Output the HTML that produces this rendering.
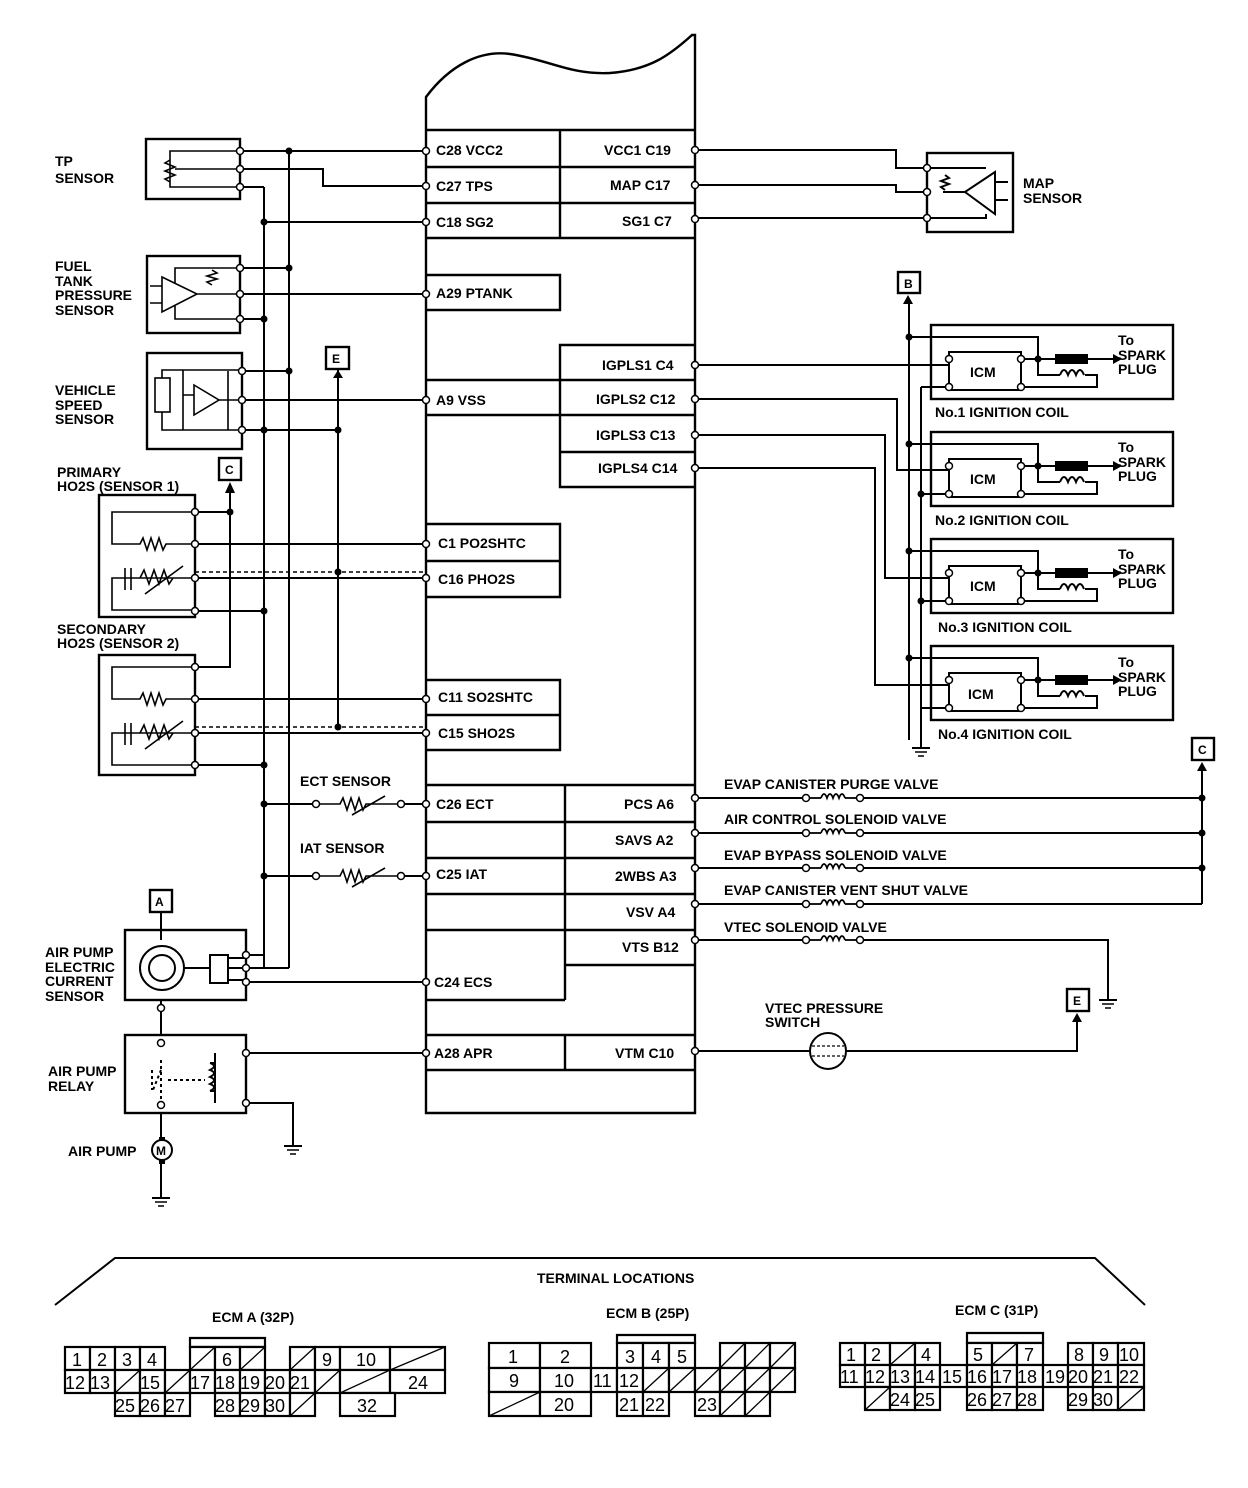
<!DOCTYPE html>
<html><head><meta charset="utf-8"><style>
html,body{margin:0;padding:0;background:#fff;}
svg{display:block}
text{font-family:"Liberation Sans",sans-serif;font-weight:bold;font-size:14px;fill:#000}
.s{font-size:12px}
.g{font-size:18px;font-weight:normal}
</style></head><body>
<svg width="1248" height="1488" viewBox="0 0 1248 1488" xmlns="http://www.w3.org/2000/svg">
<defs>
<g id="gnd"><line x1="0" y1="0" x2="0" y2="8" stroke="#000" stroke-width="2"/><line x1="-9" y1="8" x2="9" y2="8" stroke="#000" stroke-width="2"/><line x1="-6" y1="12" x2="6" y2="12" stroke="#000" stroke-width="1.5"/><line x1="-3" y1="16" x2="3" y2="16" stroke="#000" stroke-width="1.5"/></g>
<g id="tc"><circle r="3.5" fill="#fff" stroke="#000" stroke-width="1.5"/></g>
<g id="dot"><circle r="3.5" fill="#000"/></g>
<g id="sol"><use href="#tc" x="0"/><line x1="4" y1="0" x2="15" y2="0" stroke="#000" stroke-width="1.8"/><path d="M15,0 q3,-8 6,0 q3,-8 6,0 q3,-8 6,0 q3,-8 6,0" fill="none" stroke="#000" stroke-width="1.8"/><line x1="39" y1="0" x2="50" y2="0" stroke="#000" stroke-width="1.8"/><use href="#tc" x="54"/></g>
</defs>
<g fill="none" stroke="#000" stroke-width="2.4">
<path d="M426,97 C450,65 480,50 510,54 C550,60 570,75 610,73 C650,70 670,55 692,35 L695,35 L695,1113 L426,1113 Z" fill="#fff"/>
<path d="M426,130 H695 M426,167 H695 M426,203 H695 M426,238 H695 M560,130 V238"/>
<path d="M426,275 H560 V310 H426"/>
<path d="M695,345 H560 V487 H695 M560,380 H695 M560,415 H695 M560,452 H695"/>
<path d="M426,380 H560 M426,415 H560"/>
<path d="M426,524 H560 V597 H426 M426,561 H560"/>
<path d="M426,680 H560 V750 H426 M426,715 H560"/>
<path d="M426,785 H695 M426,822 H695 M565,858 H695 M426,894 H695 M565,930 H695 M565,965 H695 M426,1000 H565 M426,1035 H695 M426,1070 H695 M565,785 V1000 M565,1035 V1070 M426,858 H565 M426,930 H565"/>
</g>
<text x="436" y="155">C28 VCC2</text><text x="436" y="191">C27 TPS</text><text x="436" y="227">C18 SG2</text>
<text x="604" y="155">VCC1 C19</text><text x="610" y="190">MAP C17</text><text x="622" y="226">SG1 C7</text>
<text x="436" y="298">A29 PTANK</text>
<text x="602" y="370">IGPLS1 C4</text><text x="596" y="404">IGPLS2 C12</text><text x="596" y="440">IGPLS3 C13</text><text x="598" y="473">IGPLS4 C14</text>
<text x="436" y="405">A9 VSS</text>
<text x="438" y="548">C1 PO2SHTC</text><text x="438" y="584">C16 PHO2S</text>
<text x="438" y="702">C11 SO2SHTC</text><text x="438" y="738">C15 SHO2S</text>
<text x="436" y="809">C26 ECT</text><text x="436" y="879">C25 IAT</text><text x="434" y="987">C24 ECS</text><text x="434" y="1058">A28 APR</text>
<text x="624" y="809">PCS A6</text><text x="615" y="845">SAVS A2</text><text x="615" y="881">2WBS A3</text><text x="626" y="917">VSV A4</text><text x="622" y="952">VTS B12</text><text x="615" y="1058">VTM C10</text>

<text x="55" y="166">TP</text><text x="55" y="183">SENSOR</text>
<text x="55" y="271">FUEL</text><text x="55" y="286">TANK</text><text x="55" y="300">PRESSURE</text><text x="55" y="315">SENSOR</text>
<text x="55" y="395">VEHICLE</text><text x="55" y="410">SPEED</text><text x="55" y="424">SENSOR</text>
<text x="57" y="477">PRIMARY</text><text x="57" y="491">HO2S (SENSOR 1)</text>
<text x="57" y="634">SECONDARY</text><text x="57" y="648">HO2S (SENSOR 2)</text>
<text x="300" y="786">ECT SENSOR</text><text x="300" y="853">IAT SENSOR</text>
<text x="45" y="957">AIR PUMP</text><text x="45" y="972">ELECTRIC</text><text x="45" y="986">CURRENT</text><text x="45" y="1001">SENSOR</text>
<text x="48" y="1076">AIR PUMP</text><text x="48" y="1091">RELAY</text>
<text x="68" y="1156">AIR PUMP</text>

<g fill="none" stroke="#000" stroke-width="2.4">
<rect x="146" y="139" width="94" height="60"/>
<rect x="147" y="256" width="93" height="77"/>
<rect x="147" y="353" width="95" height="96"/>
<rect x="99" y="495" width="96" height="122"/>
<rect x="99" y="655" width="96" height="120"/>
<rect x="125" y="930" width="121" height="70"/>
<rect x="125" y="1035" width="121" height="78"/>
</g>
<g fill="none" stroke="#000" stroke-width="1.6">
<path d="M240,151 H170 V187 H240 M170,160 l-5,3 l10,4 l-10,4 l10,4 l-10,4 l5,3 M175,169 H240"/>
<path d="M162,277 L197,294 L162,312 Z M150,286 H162 M150,303 H162 M175,283 V268 H240 M175,305 V319 H240 M197,294 H240 M212,270 l5,3 l-10,3 l10,3 l-10,3 l5,3"/>
<rect x="155" y="378" width="15" height="34"/><path d="M162,378 V370 H240 M162,412 V430 H240 M183,370 V430 M194,385 L219,400 L194,415 Z M183,395 H194 M219,400 H240 M228,371 V430"/>
<path d="M195,512 H112 V544 H140 l3,-6 l4,12 l4,-12 l4,12 l4,-12 l4,12 l3,-6 H195 M195,578 H112 V610 H195 M112,578 H125 M125,568 V590 M131,568 V590 M140,578 l4,-8 l5,14 l5,-14 l5,14 l5,-14 l5,14 l4,-6 H195 M145,594 L183,566"/>
<path d="M195,667 H112 V699 H140 l3,-6 l4,12 l4,-12 l4,12 l4,-12 l4,12 l3,-6 H195 M195,733 H112 V765 H195 M112,733 H125 M125,723 V745 M131,723 V745 M140,733 l4,-8 l5,14 l5,-14 l5,14 l5,-14 l5,14 l4,-6 H195 M145,749 L183,721"/>
</g>
<g fill="none" stroke="#000" stroke-width="2">
<path d="M264,187 V968 M289,151 V968 M240,151 H426 M240,169 H323 V186 H426 M240,187 H264 M264,222 H426"/>
<path d="M240,268 H289 M240,294 H426 M240,319 H264 M242,371 H289 M242,400 H426 M242,430 H338"/>
<path d="M338,370 V728"/>
<path d="M195,512 H230 V485 M195,544 H426 M195,578 H426 M195,611 H264"/>
<path d="M195,667 H230 V512 M195,699 H426 M195,733 H426 M195,765 H264"/>
<path d="M264,804 H312 M405,804 H426 M264,876 H312 M405,876 H426"/>
<path d="M246,955 H264 M246,968 H289 M246,982 H426"/>
<path d="M246,1053 H426 M246,1103 H293 V1138"/>
<path d="M161,912 V940 M161,1000 V1035 M161,1113 V1140 M161,1160 V1190"/>
</g>
<g fill="none" stroke="#000" stroke-width="1.4" stroke-dasharray="4,3">
<path d="M195,572 H426 M195,727 H426"/>
</g>
<g fill="none" stroke="#000" stroke-width="1.6">
<path d="M320,804 H340 l3,-6 l4,12 l4,-12 l4,12 l4,-12 l4,12 l3,-6 H397 M352,815 L385,796"/>
<path d="M320,876 H340 l3,-6 l4,12 l4,-12 l4,12 l4,-12 l4,12 l3,-6 H397 M352,887 L385,868"/>
</g>
<use href="#tc" x="316" y="804"/><use href="#tc" x="401" y="804"/><use href="#tc" x="316" y="876"/><use href="#tc" x="401" y="876"/>
<g fill="none" stroke="#000" stroke-width="2">
<circle cx="162" cy="968" r="22"/><circle cx="162" cy="968" r="13"/>
<rect x="210" y="955" width="18" height="28"/><path d="M184,968 H210 M228,958 H246 M228,968 H246 M228,980 H246"/>
<path d="M161,1060 V1100 M152,1070 V1090 M161,1070 L153,1090 M168,1080 H205" stroke-dasharray="3,3"/>
<path d="M215,1053 V1103 M210,1063 q8,3 0,7 q8,3 0,7 q8,3 0,7 q8,3 0,7 M210,1063 H215 M210,1091 H215"/>
<circle cx="162" cy="1150" r="10"/>
</g>
<text x="156" y="1155" class="s">M</text>
<rect x="159" y="1137" width="6" height="4" fill="#000"/><rect x="159" y="1160" width="6" height="4" fill="#000"/>
<use href="#gnd" x="161" y="1190"/><use href="#gnd" x="293" y="1138"/>
<g fill="#fff" stroke="#000" stroke-width="2.4">
<rect x="326" y="347" width="23" height="22"/><rect x="219" y="458" width="22" height="22"/><rect x="150" y="890" width="22" height="22"/>
<rect x="898" y="272" width="22" height="21"/><rect x="1192" y="738" width="22" height="22"/><rect x="1067" y="989" width="22" height="22"/>
</g>
<text x="332" y="363" class="s">E</text><text x="225" y="474" class="s">C</text><text x="155" y="906" class="s">A</text>
<text x="904" y="288" class="s">B</text><text x="1198" y="754" class="s">C</text><text x="1073" y="1005" class="s">E</text>
<g fill="#000"><path d="M333,378 L343,378 L338,370 Z"/><path d="M225,493 L235,493 L230,482 Z"/><path d="M903,304 L913,304 L908,295 Z"/><path d="M1197,771 L1207,771 L1202,762 Z"/><path d="M1072,1022 L1082,1022 L1077,1013 Z"/></g>
<use href="#tc" x="240" y="151"/><use href="#tc" x="240" y="169"/><use href="#tc" x="240" y="187"/>
<use href="#tc" x="240" y="268"/><use href="#tc" x="240" y="294"/><use href="#tc" x="240" y="319"/>
<use href="#tc" x="242" y="371"/><use href="#tc" x="242" y="400"/><use href="#tc" x="242" y="430"/>
<use href="#tc" x="195" y="512"/><use href="#tc" x="195" y="544"/><use href="#tc" x="195" y="578"/><use href="#tc" x="195" y="611"/>
<use href="#tc" x="195" y="667"/><use href="#tc" x="195" y="699"/><use href="#tc" x="195" y="733"/><use href="#tc" x="195" y="765"/>
<use href="#tc" x="246" y="955"/><use href="#tc" x="246" y="968"/><use href="#tc" x="246" y="982"/>
<use href="#tc" x="246" y="1053"/><use href="#tc" x="246" y="1103"/><use href="#tc" x="161" y="1008"/><use href="#tc" x="161" y="1043"/><use href="#tc" x="161" y="1105"/>
<g><use href="#tc" x="426" y="151"/><use href="#tc" x="426" y="186"/><use href="#tc" x="426" y="222"/><use href="#tc" x="426" y="294"/><use href="#tc" x="426" y="400"/><use href="#tc" x="426" y="544"/><use href="#tc" x="426" y="578"/><use href="#tc" x="426" y="699"/><use href="#tc" x="426" y="733"/><use href="#tc" x="426" y="804"/><use href="#tc" x="426" y="876"/><use href="#tc" x="426" y="982"/><use href="#tc" x="426" y="1053"/></g>
<use href="#dot" x="289" y="151"/><use href="#dot" x="264" y="222"/><use href="#dot" x="289" y="268"/><use href="#dot" x="264" y="319"/><use href="#dot" x="289" y="371"/><use href="#dot" x="264" y="430"/><use href="#dot" x="338" y="430"/>
<use href="#dot" x="230" y="512"/><use href="#dot" x="264" y="611"/><use href="#dot" x="338" y="572"/><use href="#dot" x="338" y="727"/><use href="#dot" x="264" y="765"/><use href="#dot" x="264" y="804"/><use href="#dot" x="264" y="876"/>

<g fill="none" stroke="#000" stroke-width="2">
<rect x="927" y="153" width="86" height="79" stroke-width="2.4"/>
<path d="M695,150 H896 V168 H927 M695,185 H896 V192 H927 M695,218 H927"/>
<path d="M927,168 H986 M943,192 H965 L995,172 V214 L965,192 M927,218 H986 V214 M995,182 H1008 M995,200 H1008 M945,175 l4,3 l-8,3 l8,3 l-8,3 l4,3"/>
</g>
<use href="#tc" x="927" y="168"/><use href="#tc" x="927" y="192"/><use href="#tc" x="927" y="218"/>
<use href="#tc" x="695" y="150"/><use href="#tc" x="695" y="185"/><use href="#tc" x="695" y="219"/>
<text x="1023" y="188">MAP</text><text x="1023" y="203">SENSOR</text>

<g fill="none" stroke="#000" stroke-width="2">
<path d="M909,304 V740 M921,387 V740"/>
<path d="M695,365 H949 M695,399 H897 V470 H949 M695,435 H885 V578 H949 M695,468 H875 V685 H949"/>
</g>
<g id="coil1" fill="none" stroke="#000" stroke-width="2">
<rect x="931" y="325" width="242" height="74" stroke-width="2.4"/>
<rect x="949" y="352" width="72" height="38"/>
<path d="M909,337 H1038 V359 M1021,359 H1055 M1088,359 H1113 M1038,359 V375 H1060 M1085,375 H1097 V387 H1021 M921,387 H949"/>
<path d="M1060,375 q4,-10 8,0 q4,-10 8,0 q4,-10 8,0" />
</g>
<rect x="1055" y="354" width="33" height="10" fill="#000"/>
<path d="M1113,354 L1122,359 L1113,364 Z" fill="#000"/>
<use href="#tc" x="949" y="359"/><use href="#tc" x="949" y="387"/><use href="#tc" x="1021" y="359"/><use href="#tc" x="1021" y="387"/>
<use href="#dot" x="909" y="337"/><use href="#dot" x="1038" y="359"/>
<use href="#coil1" y="107"/><use href="#coil1" y="214"/><use href="#coil1" y="321"/>
<rect x="1055" y="461" width="33" height="10" fill="#000"/><rect x="1055" y="568" width="33" height="10" fill="#000"/><rect x="1055" y="675" width="33" height="10" fill="#000"/>
<path d="M1113,461 L1122,466 L1113,471 Z M1113,568 L1122,573 L1113,578 Z M1113,675 L1122,680 L1113,685 Z" fill="#000"/>
<g><use href="#tc" x="949" y="466"/><use href="#tc" x="949" y="494"/><use href="#tc" x="1021" y="466"/><use href="#tc" x="1021" y="494"/>
<use href="#tc" x="949" y="573"/><use href="#tc" x="949" y="601"/><use href="#tc" x="1021" y="573"/><use href="#tc" x="1021" y="601"/>
<use href="#tc" x="949" y="680"/><use href="#tc" x="949" y="708"/><use href="#tc" x="1021" y="680"/><use href="#tc" x="1021" y="708"/>
<use href="#dot" x="909" y="444"/><use href="#dot" x="909" y="551"/><use href="#dot" x="909" y="658"/>
<use href="#dot" x="1038" y="466"/><use href="#dot" x="1038" y="573"/><use href="#dot" x="1038" y="680"/>
<use href="#dot" x="921" y="494"/><use href="#dot" x="921" y="601"/></g>
<use href="#gnd" x="921" y="740"/>
<text x="970" y="377">ICM</text><text x="970" y="484">ICM</text><text x="970" y="591">ICM</text><text x="968" y="699">ICM</text>
<text x="1118" y="345">To</text><text x="1118" y="360">SPARK</text><text x="1118" y="374">PLUG</text>
<text x="1118" y="452">To</text><text x="1118" y="467">SPARK</text><text x="1118" y="481">PLUG</text>
<text x="1118" y="559">To</text><text x="1118" y="574">SPARK</text><text x="1118" y="588">PLUG</text>
<text x="1118" y="667">To</text><text x="1118" y="682">SPARK</text><text x="1118" y="696">PLUG</text>
<text x="935" y="417">No.1 IGNITION COIL</text><text x="935" y="525">No.2 IGNITION COIL</text><text x="938" y="632">No.3 IGNITION COIL</text><text x="938" y="739">No.4 IGNITION COIL</text>
<use href="#tc" x="695" y="365"/><use href="#tc" x="695" y="399"/><use href="#tc" x="695" y="435"/><use href="#tc" x="695" y="468"/>

<g fill="none" stroke="#000" stroke-width="2">
<path d="M695,798 H806 M860,798 H1202 M695,833 H806 M860,833 H1202 M695,868 H806 M860,868 H1202 M695,904 H806 M860,904 H1202 M1202,771 V904 M695,940 H806 M860,940 H1108 V992 M695,1051 H810 M846,1051 H1077 V1022"/>
<circle cx="828" cy="1051" r="18"/>
<path d="M812,1046 H844 M812,1056 H844" stroke-width="1.2" stroke-dasharray="3,2"/>
</g>
<use href="#sol" x="806" y="798"/><use href="#sol" x="806" y="833"/><use href="#sol" x="806" y="868"/><use href="#sol" x="806" y="904"/><use href="#sol" x="806" y="940"/>
<use href="#dot" x="1202" y="798"/><use href="#dot" x="1202" y="833"/><use href="#dot" x="1202" y="868"/>
<use href="#tc" x="695" y="798"/><use href="#tc" x="695" y="833"/><use href="#tc" x="695" y="868"/><use href="#tc" x="695" y="904"/><use href="#tc" x="695" y="940"/><use href="#tc" x="695" y="1051"/>
<use href="#gnd" x="1108" y="992"/>
<text x="724" y="789">EVAP CANISTER PURGE VALVE</text><text x="724" y="824">AIR CONTROL SOLENOID VALVE</text><text x="724" y="860">EVAP BYPASS SOLENOID VALVE</text><text x="724" y="895">EVAP CANISTER VENT SHUT VALVE</text><text x="724" y="932">VTEC SOLENOID VALVE</text>
<text x="765" y="1013">VTEC PRESSURE</text><text x="765" y="1027">SWITCH</text>

<path d="M55,1305 L115,1258 H1095 L1145,1305" fill="none" stroke="#000" stroke-width="2"/>
<text x="537" y="1283">TERMINAL LOCATIONS</text>
<text x="212" y="1322">ECM A (32P)</text><text x="606" y="1318">ECM B (25P)</text><text x="955" y="1315">ECM C (31P)</text>

<g fill="#fff" stroke="#000" stroke-width="2.2">
<path d="M190,1338 H265 V1347 H190 Z" fill="none"/>
<rect x="65" y="1347" width="25" height="23"/><rect x="90" y="1347" width="25" height="23"/><rect x="115" y="1347" width="25" height="23"/><rect x="140" y="1347" width="25" height="23"/>
<rect x="190" y="1347" width="25" height="23"/><rect x="215" y="1347" width="25" height="23"/><rect x="240" y="1347" width="25" height="23"/>
<rect x="290" y="1347" width="25" height="23"/><rect x="315" y="1347" width="25" height="23"/><rect x="340" y="1347" width="50" height="23"/><rect x="390" y="1347" width="55" height="23"/>
<rect x="65" y="1370" width="25" height="23"/><rect x="90" y="1370" width="25" height="23"/><rect x="115" y="1370" width="25" height="23"/><rect x="140" y="1370" width="25" height="23"/><rect x="165" y="1370" width="25" height="23"/><rect x="190" y="1370" width="25" height="23"/><rect x="215" y="1370" width="25" height="23"/><rect x="240" y="1370" width="25" height="23"/><rect x="265" y="1370" width="25" height="23"/><rect x="290" y="1370" width="25" height="23"/><rect x="315" y="1370" width="25" height="23"/><rect x="340" y="1370" width="50" height="23"/><rect x="390" y="1370" width="55" height="23"/>
<rect x="115" y="1393" width="25" height="23"/><rect x="140" y="1393" width="25" height="23"/><rect x="165" y="1393" width="25" height="23"/><rect x="215" y="1393" width="25" height="23"/><rect x="240" y="1393" width="25" height="23"/><rect x="265" y="1393" width="25" height="23"/><rect x="290" y="1393" width="25" height="23"/><rect x="340" y="1393" width="55" height="23"/>
</g>
<g stroke="#000" stroke-width="1.3">
<path d="M190,1370 L215,1347 M240,1370 L265,1347 M290,1370 L315,1347 M390,1370 L445,1347 M115,1393 L140,1370 M165,1393 L190,1370 M315,1393 L340,1370 M340,1393 L390,1370 M290,1416 L315,1393"/>
</g>
<text x="72" y="1366" class="g">1</text><text x="97" y="1366" class="g">2</text><text x="122" y="1366" class="g">3</text><text x="147" y="1366" class="g">4</text><text x="222" y="1366" class="g">6</text><text x="322" y="1366" class="g">9</text><text x="356" y="1366" class="g">10</text>
<text x="65" y="1389" class="g">12</text><text x="90" y="1389" class="g">13</text><text x="140" y="1389" class="g">15</text><text x="190" y="1389" class="g">17</text><text x="215" y="1389" class="g">18</text><text x="240" y="1389" class="g">19</text><text x="265" y="1389" class="g">20</text><text x="290" y="1389" class="g">21</text><text x="408" y="1389" class="g">24</text>
<text x="115" y="1412" class="g">25</text><text x="140" y="1412" class="g">26</text><text x="165" y="1412" class="g">27</text><text x="215" y="1412" class="g">28</text><text x="240" y="1412" class="g">29</text><text x="265" y="1412" class="g">30</text><text x="357" y="1412" class="g">32</text>

<g fill="#fff" stroke="#000" stroke-width="2.2">
<path d="M617,1335 H695 V1343 H617 Z" fill="none"/>
<rect x="489" y="1343" width="51" height="25"/><rect x="540" y="1343" width="51" height="25"/><rect x="617" y="1343" width="26" height="25"/><rect x="643" y="1343" width="26" height="25"/><rect x="669" y="1343" width="26" height="25"/><rect x="720" y="1343" width="25" height="25"/><rect x="745" y="1343" width="25" height="25"/><rect x="770" y="1343" width="25" height="25"/>
<rect x="489" y="1368" width="51" height="24"/><rect x="540" y="1368" width="51" height="24"/><rect x="591" y="1368" width="26" height="24"/><rect x="617" y="1368" width="26" height="24"/><rect x="643" y="1368" width="26" height="24"/><rect x="669" y="1368" width="26" height="24"/><rect x="695" y="1368" width="25" height="24"/><rect x="720" y="1368" width="25" height="24"/><rect x="745" y="1368" width="25" height="24"/><rect x="770" y="1368" width="25" height="24"/>
<rect x="489" y="1392" width="51" height="24"/><rect x="540" y="1392" width="51" height="24"/><rect x="617" y="1392" width="26" height="24"/><rect x="643" y="1392" width="26" height="24"/><rect x="695" y="1392" width="25" height="24"/><rect x="720" y="1392" width="25" height="24"/><rect x="745" y="1392" width="25" height="24"/>
</g>
<g stroke="#000" stroke-width="1.3">
<path d="M720,1368 L745,1343 M745,1368 L770,1343 M770,1368 L795,1343 M643,1392 L669,1368 M669,1392 L695,1368 M695,1392 L720,1368 M720,1392 L745,1368 M745,1392 L770,1368 M770,1392 L795,1368 M489,1416 L540,1392 M720,1416 L745,1392 M745,1416 L770,1392"/>
</g>
<text x="508" y="1363" class="g">1</text><text x="560" y="1363" class="g">2</text><text x="625" y="1363" class="g">3</text><text x="651" y="1363" class="g">4</text><text x="677" y="1363" class="g">5</text>
<text x="509" y="1387" class="g">9</text><text x="554" y="1387" class="g">10</text><text x="593" y="1387" class="g">11</text><text x="619" y="1387" class="g">12</text>
<text x="554" y="1411" class="g">20</text><text x="619" y="1411" class="g">21</text><text x="645" y="1411" class="g">22</text><text x="697" y="1411" class="g">23</text>

<g fill="#fff" stroke="#000" stroke-width="2.2">
<path d="M967,1333 H1043 V1343 H967 Z" fill="none"/>
<rect x="840" y="1343" width="25" height="22"/><rect x="865" y="1343" width="25" height="22"/><rect x="890" y="1343" width="25" height="22"/><rect x="915" y="1343" width="25" height="22"/>
<rect x="967" y="1343" width="25" height="22"/><rect x="992" y="1343" width="25" height="22"/><rect x="1017" y="1343" width="26" height="22"/>
<rect x="1068" y="1343" width="25" height="22"/><rect x="1093" y="1343" width="25" height="22"/><rect x="1118" y="1343" width="26" height="22"/>
<rect x="840" y="1365" width="25" height="22"/><rect x="865" y="1365" width="25" height="22"/><rect x="890" y="1365" width="25" height="22"/><rect x="915" y="1365" width="25" height="22"/><rect x="940" y="1365" width="27" height="22"/><rect x="967" y="1365" width="25" height="22"/><rect x="992" y="1365" width="25" height="22"/><rect x="1017" y="1365" width="26" height="22"/><rect x="1043" y="1365" width="25" height="22"/><rect x="1068" y="1365" width="25" height="22"/><rect x="1093" y="1365" width="25" height="22"/><rect x="1118" y="1365" width="26" height="22"/>
<rect x="865" y="1387" width="25" height="23"/><rect x="890" y="1387" width="25" height="23"/><rect x="915" y="1387" width="25" height="23"/><rect x="967" y="1387" width="25" height="23"/><rect x="992" y="1387" width="25" height="23"/><rect x="1017" y="1387" width="26" height="23"/><rect x="1068" y="1387" width="25" height="23"/><rect x="1093" y="1387" width="25" height="23"/><rect x="1118" y="1387" width="26" height="23"/>
</g>
<g stroke="#000" stroke-width="1.3"><path d="M890,1365 L915,1343 M992,1365 L1017,1343 M865,1410 L890,1387 M1118,1410 L1144,1387"/></g>
<text x="846" y="1361" class="g">1</text><text x="871" y="1361" class="g">2</text><text x="921" y="1361" class="g">4</text><text x="973" y="1361" class="g">5</text><text x="1024" y="1361" class="g">7</text><text x="1074" y="1361" class="g">8</text><text x="1099" y="1361" class="g">9</text><text x="1119" y="1361" class="g">10</text>
<text x="840" y="1383" class="g">11</text><text x="865" y="1383" class="g">12</text><text x="890" y="1383" class="g">13</text><text x="915" y="1383" class="g">14</text><text x="942" y="1383" class="g">15</text><text x="967" y="1383" class="g">16</text><text x="992" y="1383" class="g">17</text><text x="1017" y="1383" class="g">18</text><text x="1045" y="1383" class="g">19</text><text x="1068" y="1383" class="g">20</text><text x="1093" y="1383" class="g">21</text><text x="1119" y="1383" class="g">22</text>
<text x="890" y="1406" class="g">24</text><text x="915" y="1406" class="g">25</text><text x="967" y="1406" class="g">26</text><text x="992" y="1406" class="g">27</text><text x="1017" y="1406" class="g">28</text><text x="1068" y="1406" class="g">29</text><text x="1093" y="1406" class="g">30</text>
</svg>
</body></html>
